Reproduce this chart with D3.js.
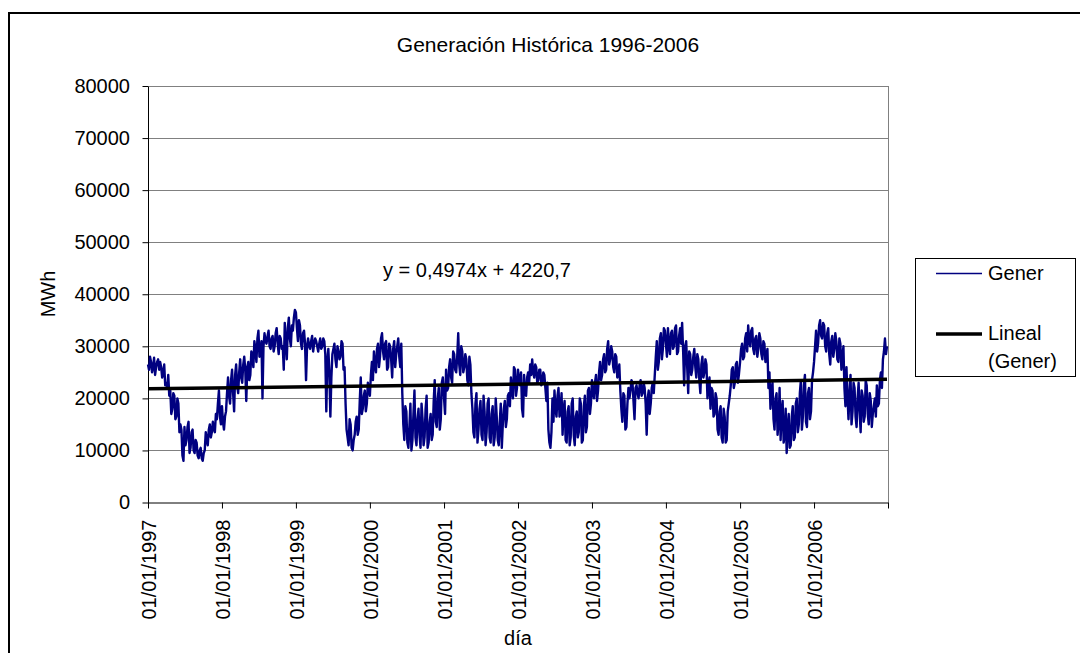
<!DOCTYPE html>
<html>
<head>
<meta charset="utf-8">
<script src="https://cdn.jsdelivr.net/npm/d3@7"></script>
<style>
  body { margin: 0; background: #fff; }
  svg { display: block; }
  text { font-family: "Liberation Sans", Arial, sans-serif; fill: #000; }
</style>
</head>
<body>
<svg id="chart" width="1080" height="653"></svg>
<script>
// Daily generation (MWh), one reading every 5 days from 1 January of each year
const years = [1997, 1998, 1999, 2000, 2001, 2002, 2003, 2004, 2005, 2006];
const gener1997 = [26500,25500, 28000,27000, 25000,26000, 27800,24500, 26000,27000, 27500,25500, 27000,26000, 24000,25000, 26500,22500, 23000,22000, 24500,20500, 21500,17000, 18000,21000, 20500,16000, 16500,20000, 19000,13500, 15000,14000, 9000,8000, 14500,11000, 12000,14500, 15500,9500, 10500,13500, 14000,10000, 9500,12000, 11500,9000, 8500,10000, 10500,8500, 8000,9500, 10000,13500, 12000,11000, 14000,15000, 12500,13500, 15500,14000, 13500,17000, 16000,19000, 21500,16500, 15000];
const gener1998 = [18500,15500, 14000,16500, 17500,21000, 24000,20500, 19000,23500, 25500,21000, 17500,24500, 26500,22500, 21000,25000, 27500,24000, 23000,26500, 28000,25500, 19500,26000, 27000,23500, 24500,29000, 28500,26000, 31000,29500, 27000,31500, 33000,28000, 29000,31000, 20000,30000, 32500,31000, 30500,32000, 33000,30000, 29500,31500, 32000,29000, 30000,32500, 33500,30500, 28500,32000, 31500,29500, 30000,25500, 34500,31000, 27500,33500, 35500,31500, 30000,34000, 33000,35500, 37000];
const gener1999 = [36500,33500, 31000,35000, 34000,30500, 29500,32500, 33000,30500, 23500,30000, 31500,30000, 29500,31000, 32000,29000, 30500,31500, 31000,30000, 29000,30500, 31500,29500, 30000,31500, 31000,28500, 17500,27000, 29500,25000, 16500,24000, 28500,29500, 30500,27500, 26000,30000, 29000,27500, 28000,31000, 30500,25500, 26000,19000, 14000,12500, 11000,16000, 15000,10500, 10000,12000, 13000,15500, 16500,13000, 14000,19500, 24000,17000, 18000,20500, 21500,17500, 19000,23000, 22000];
const gener2000 = [20500,24500, 27000,23500, 29000,26500, 25000,29500, 30500,26000, 28000,31500, 32500,29000, 27500,30500, 31000,25500, 26000,30500, 30000,27500, 24000,29500, 31000,26000, 28500,30000, 31500,28000, 26000,30500, 21000,15000, 12000,18500, 17500,11500, 10500,14500, 19000,10000, 12000,17000, 21500,12500, 11000,16000, 18000,13000, 10500,19000, 16000,11000, 12500,18000, 20500,10500, 11500,15500, 17000,12000, 13000,19500, 23500,15500, 14500,20000, 22000,14000, 16000,23000, 24000];
const gener2001 = [20000,17000, 25500,21500, 22000,26000, 27500,24000, 23000,29000, 28500,25500, 25000,28000, 32500,26500, 24500,30000, 29000,25000, 26000,28500, 27500,23500, 22500,28000, 26500,21000, 18000,13500, 12500,19000, 21000,11500, 14000,18000, 19500,13000, 12000,20500, 17500,11000, 13500,19000, 20000,12500, 11500,17000, 18500,11000, 12500,20000, 16500,12000, 11000,15500, 19000,10500, 15000,18000, 19500,14500, 16000,20500, 21000,18500, 24000,21500, 20000,26000, 25500,20500, 22000];
const gener2002 = [25500,23500, 22500,25000, 18000,16500, 24500,21000, 20500,24000, 25000,23000, 26500,24500, 27500,25000, 24000,26500, 26000,23000, 23500,25500, 25500,22500, 23000,25000, 24500,22000, 19500,23000, 14000,11500, 10500,13500, 20000,15500, 21500,18000, 16500,20500, 22000,16500, 17500,21000, 13000,18000, 19500,12000, 11500,17500, 18500,11000, 12500,19000, 20000,13000, 11000,16500, 17500,12500, 13500,20000, 19000,11500, 12000,18500, 20500,13500, 14500,21500, 22000,17000, 19000];
const gener2003 = [23500,21000, 20000,23000, 24500,19500, 21500,25000, 27000,23500, 24500,27500, 28500,25000, 25500,29500, 31000,26500, 27500,30000, 29000,26000, 25000,28500, 28000,24000, 24500,26500, 21500,18000, 15500,21000, 20500,14000, 14500,19000, 22000,20000, 21500,23500, 23000,19500, 16000,22000, 22500,21000, 20000,22500, 23500,20500, 21000,23000, 22000,19000, 13000,20000, 21500,17000, 19000,22000, 23000,21000, 24500,28000, 31000,25500, 27000,31500, 32500,27500, 29500,33500, 33000];
const gener2004 = [30500,28000, 33500,30000, 28500,32500, 33000,29500, 30000,33500, 34000,28500, 29000,32000, 33500,30500, 34500,29000, 22500,30000, 31000,26000, 21000,29000, 28500,24500, 25500,28000, 29500,26000, 24000,28500, 27500,23500, 21000,26500, 28000,24000, 25000,27500, 26500,20000, 22500,24000, 18000,22000, 21500,16500, 17000,21000, 20000,14000, 13000,17500, 18500,12500, 11500,18000, 16500,11500, 12000,17500, 19000,20500, 22500,25500, 26000,22000, 23000,26500, 27000,23000, 24500];
const gener2005 = [27000,29500, 30500,27500, 28000,31500, 32500,29000, 34000,31000, 30000,33000, 33500,29500, 28500,31500, 32000,28000, 29500,32500, 31500,28500, 27500,31000, 30500,27000, 28000,29500, 22000,25000, 18000,21500, 23000,16000, 14000,20000, 21000,13000, 15500,22000, 12000,17500, 19500,11500, 13000,18000, 9500,14500, 17000,10500, 11000,16500, 18500,12000, 12500,19000, 20000,13500, 15000,21000, 23500,14000, 16500,22500, 24500,15500, 14500,21000, 22000,16000, 17500,23500, 25000];
const gener2006 = [27000,30000, 33000,29000, 30500,34000, 35000,32000, 31500,34500, 34000,30000, 29000,32500, 33500,28500, 26500,31000, 32000,28000, 29500,32500, 31000,27500, 27000,31500, 30500,25500, 28000,30000, 22000,18500, 26000,20500, 16000,21000, 24500,15000, 17500,23000, 22000,16500, 14500,20000, 23000,17500, 13500,21500, 20500,15500, 16500,23500, 22500,17000, 15000,21000, 19500,14500, 17000,18500, 20000,16500, 22500,18500, 19000,23500, 25000,22000, 27500,29000, 31500,28500, 30000];
const generByYear = [gener1997, gener1998, gener1999, gener2000, gener2001, gener2002, gener2003, gener2004, gener2005, gener2006];
const stepDays = 5;

const yTicks = [0, 10000, 20000, 30000, 40000, 50000, 60000, 70000, 80000];
const xTickYears = [1997, 1998, 1999, 2000, 2001, 2002, 2003, 2004, 2005, 2006, 2007];

// Linear trend as reported by the spreadsheet (x = date serial number)
const trendSlope = 0.4974;
const trendIntercept = 4220.7;

const titleText = "Generación Histórica 1996-2006";
const equationText = "y = 0,4974x + 4220,7";
const legendLabels = ["Gener", "Lineal", "(Gener)"];

// ---- build series ----
const points = [];
years.forEach((yr, k) => {
  generByYear[k].forEach((v, i) => {
    points.push({ date: new Date(Date.UTC(yr, 0, 1 + stepDays * i)), value: v });
  });
});

const svg = d3.select("#chart");
const plot = { left: 148, right: 888, top: 86, bottom: 502.5 };

const x = d3.scaleUtc()
  .domain([new Date(Date.UTC(1997, 0, 1)), new Date(Date.UTC(2007, 0, 1))])
  .range([plot.left, plot.right]);
const y = d3.scaleLinear().domain([0, 80000]).range([plot.bottom, plot.top]);

// outer frame
svg.append("rect")
  .attr("x", 9).attr("y", 13).attr("width", 1100).attr("height", 700)
  .attr("fill", "none").attr("stroke", "#000").attr("stroke-width", 2);

// gridlines
svg.append("g").selectAll("line")
  .data(yTicks.filter(d => d > 0))
  .join("line")
  .attr("x1", plot.left).attr("x2", plot.right)
  .attr("y1", d => Math.round(y(d)) + 0.5).attr("y2", d => Math.round(y(d)) + 0.5)
  .attr("stroke", "#808080").attr("stroke-width", 1);

svg.append("line")
  .attr("x1", plot.right + 0.5).attr("x2", plot.right + 0.5)
  .attr("y1", y(80000)).attr("y2", plot.bottom)
  .attr("stroke", "#808080").attr("stroke-width", 1);

// y axis
const yAxis = svg.append("g")
  .attr("transform", `translate(${plot.left},0)`)
  .call(d3.axisLeft(y).tickValues(yTicks).tickFormat(d3.format("d"))
    .tickSize(5.5).tickPadding(12.5).tickSizeOuter(0));
yAxis.selectAll("text")
  .attr("font-size", 20).attr("font-family", '"Liberation Sans", Arial, sans-serif');
yAxis.selectAll("path, line").attr("stroke", "#000");

// x axis
const fmt = d3.utcFormat("%d/%m/%Y");
const xAxis = svg.append("g")
  .attr("transform", `translate(0,${plot.bottom})`)
  .call(d3.axisBottom(x)
    .tickValues(xTickYears.map(yr => new Date(Date.UTC(yr, 0, 1))))
    .tickFormat(d => d.getUTCFullYear() < 2007 ? fmt(d) : "")
    .tickSize(6).tickSizeOuter(0));
xAxis.selectAll("path, line").attr("stroke", "#000");
xAxis.selectAll("text")
  .attr("font-size", 20).attr("font-family", '"Liberation Sans", Arial, sans-serif')
  .attr("x", -17).attr("y", 0).attr("dy", "0.36em")
  .attr("transform", "rotate(-90)")
  .style("text-anchor", "end");

// generation series
const line = d3.line().x(d => x(d.date)).y(d => y(d.value));
svg.append("path")
  .datum(points)
  .attr("d", line)
  .attr("fill", "none")
  .attr("stroke", "#000080")
  .attr("stroke-width", 2.4)
  .attr("stroke-linejoin", "round");

// trend line
const serial = d => (d - Date.UTC(1899, 11, 30)) / 864e5;
const trendEnds = [points[0].date, points[points.length - 1].date];
svg.append("path")
  .datum(trendEnds)
  .attr("d", d3.line().x(d => x(d)).y(d => y(trendSlope * serial(d) + trendIntercept)))
  .attr("stroke", "#000").attr("stroke-width", 3.5).attr("fill", "none");

// title and labels
svg.append("text").attr("x", 548).attr("y", 52).attr("text-anchor", "middle")
  .attr("font-size", 21).text(titleText);
svg.append("text").attr("x", 383).attr("y", 277).attr("font-size", 20).text(equationText);
svg.append("text").attr("transform", "translate(55,294) rotate(-90)")
  .attr("text-anchor", "middle").attr("font-size", 20).text("MWh");
svg.append("text").attr("x", 518).attr("y", 645).attr("text-anchor", "middle")
  .attr("font-size", 20).text("día");

// legend
const lg = svg.append("g");
lg.append("rect").attr("x", 915.5).attr("y", 258.5).attr("width", 160).attr("height", 118)
  .attr("fill", "#fff").attr("stroke", "#000").attr("stroke-width", 1);
lg.append("line").attr("x1", 936).attr("x2", 982).attr("y1", 273.5).attr("y2", 273.5)
  .attr("stroke", "#000080").attr("stroke-width", 1.5);
lg.append("line").attr("x1", 936).attr("x2", 982).attr("y1", 334).attr("y2", 334)
  .attr("stroke", "#000").attr("stroke-width", 3.5);
lg.append("text").attr("x", 988).attr("y", 280).attr("font-size", 20).text(legendLabels[0]);
lg.append("text").attr("x", 988).attr("y", 340).attr("font-size", 20).text(legendLabels[1]);
lg.append("text").attr("x", 988).attr("y", 368).attr("font-size", 20).text(legendLabels[2]);
</script>
</body>
</html>
